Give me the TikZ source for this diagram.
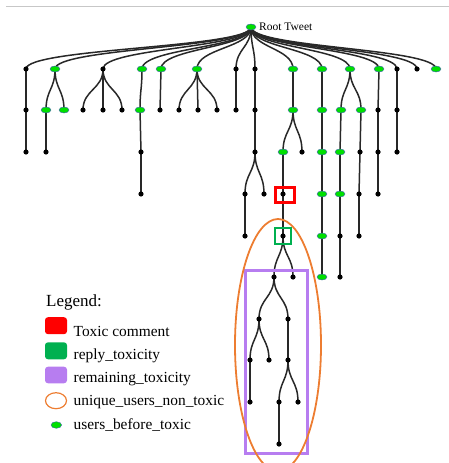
\documentclass[tikz,border=0pt]{standalone}
\usepackage{fontspec}
\setmainfont{Liberation Serif}
\usetikzlibrary{shapes.geometric,calc}
\definecolor{nodegreen}{RGB}{0,224,0}
\definecolor{nodeblue}{RGB}{60,100,170}
\definecolor{toxred}{RGB}{255,0,0}
\definecolor{replygreen}{RGB}{0,176,80}
\definecolor{rempurple}{RGB}{183,125,240}
\definecolor{uniqorange}{RGB}{237,125,49}
\definecolor{edgecol}{RGB}{40,40,40}
\pgfdeclarelayer{edges}
\pgfsetlayers{edges,main}
\newcommand\lnk[2]{\draw[edge] let \p1=(#1.center), \p2=(#2.center) in (\p1) .. controls (\x1,{0.5*(\y1+\y2)}) and (\x2,{0.5*(\y1+\y2)}) .. (\p2);}
\begin{document}
\begin{tikzpicture}[x=1pt,y=-1pt,
  bn/.style={circle, fill=black, inner sep=0pt, minimum size=5.2pt},
  gn/.style={ellipse, fill=nodegreen, draw=nodeblue, line width=0.4pt, inner sep=0pt, minimum width=10pt, minimum height=6pt},
  edge/.style={draw=edgecol, line width=1.5pt},
  lgtext/.style={anchor=base west, inner sep=0pt, font=\fontsize{15.4}{18}\selectfont},
  lgbox/.style={inner sep=0pt, rounded corners=3pt, minimum width=22pt}]
\clip (0,0) rectangle (449,463);
\useasboundingbox (0,0) rectangle (449,463);
\coordinate (tl) at (6,6);
\coordinate (tr) at (449,6);
\draw[black!22, line width=1pt] (tl) -- (tr);
% root
\node[gn] (r) at (251,27) {};
\node[anchor=base west, inner sep=0pt, font=\fontsize{11.5}{13}\selectfont] (rt) at (259,30.5) {Root Tweet};
% level 1
\node[bn] (a1) at (26,69) {};
\node[gn] (b1) at (55,69) {};
\node[bn] (c1) at (103,69) {};
\node[gn] (d1) at (142,69) {};
\node[gn] (e1) at (161,69) {};
\node[gn] (f1) at (197,69) {};
\node[bn] (g1) at (236,69) {};
\node[bn] (h1) at (255,69) {};
\node[gn] (i1) at (293,69) {};
\node[gn] (j1) at (322,69) {};
\node[gn] (k1) at (350,69) {};
\node[gn] (l1) at (379,69) {};
\node[bn] (m1) at (397,69) {};
\node[bn] (n1) at (417,69) {};
\node[gn] (o1) at (436,69) {};
% level 2
\node[bn] (a2) at (26,110) {};
\node[gn] (b2) at (46,110) {};
\node[gn] (b3) at (64,110) {};
\node[bn] (c2) at (83,110) {};
\node[bn] (c3) at (103,110) {};
\node[bn] (c4) at (122,110) {};
\node[gn] (d2) at (140,110) {};
\node[bn] (e2) at (160,110) {};
\node[bn] (f2) at (179,110) {};
\node[bn] (f3) at (198,110) {};
\node[bn] (f4) at (217,110) {};
\node[bn] (g2) at (236,110) {};
\node[bn] (h2) at (255,110) {};
\node[gn] (i2) at (293,110) {};
\node[gn] (j2) at (322,110) {};
\node[gn] (k2) at (341,110) {};
\node[gn] (k3) at (361,110) {};
\node[bn] (l2) at (378,110) {};
\node[bn] (m2) at (397,110) {};
% level 3
\node[bn] (a3) at (26,152) {};
\node[bn] (b4) at (46,152) {};
\node[bn] (d3) at (141,152) {};
\node[bn] (h3) at (255,152) {};
\node[gn] (i3) at (283,152) {};
\node[bn] (i4) at (302,152) {};
\node[gn] (j3) at (322,152) {};
\node[gn] (k4) at (340,152) {};
\node[bn] (k5) at (360,152) {};
\node[bn] (l3) at (378,152) {};
\node[bn] (m3) at (397,152) {};
% level 4
\node[bn] (d4) at (141,194) {};
\node[bn] (h4) at (245,194) {};
\node[bn] (h5) at (264,194) {};
\node[bn] (t) at (283,194) {};
\node[gn] (j4) at (322,194) {};
\node[gn] (k6) at (340,194) {};
\node[bn] (k7) at (359,194) {};
\node[bn] (l4) at (378,194) {};
% level 5
\node[bn] (h6) at (245,236) {};
\node[bn] (u) at (283,236) {};
\node[gn] (j5) at (322,236) {};
\node[bn] (k8) at (340,236) {};
\node[bn] (k9) at (359,236) {};
% level 6
\node[bn] (v1) at (274,277) {};
\node[bn] (v2) at (293,277) {};
\node[gn] (j6) at (322,277) {};
\node[bn] (k10) at (340,277) {};
% level 7
\node[bn] (w1) at (259,319) {};
\node[bn] (w2) at (288,319) {};
% level 8
\node[bn] (x1) at (250,360) {};
\node[bn] (x2) at (269,360) {};
\node[bn] (x3) at (288,360) {};
% level 9
\node[bn] (y1) at (250,402) {};
\node[bn] (y2) at (279,402) {};
\node[bn] (y3) at (298,402) {};
% level 10
\node[bn] (z1) at (279,444) {};
% edges
\begin{pgfonlayer}{edges}
\foreach \pa/\ch in {r/a1,r/b1,r/c1,r/d1,r/e1,r/f1,r/g1,r/h1,r/i1,r/j1,r/k1,r/l1,r/m1,r/n1,r/o1,
  a1/a2,b1/b2,b1/b3,c1/c2,c1/c3,c1/c4,d1/d2,e1/e2,f1/f2,f1/f3,f1/f4,g1/g2,h1/h2,i1/i2,j1/j2,k1/k2,k1/k3,l1/l2,m1/m2,
  a2/a3,b2/b4,d2/d3,h2/h3,i2/i3,i2/i4,j2/j3,k2/k4,k3/k5,l2/l3,m2/m3,
  d3/d4,h3/h4,h3/h5,i3/t,j3/j4,k4/k6,k5/k7,l3/l4,
  h4/h6,t/u,j4/j5,k6/k8,k7/k9,
  u/v1,u/v2,j5/j6,k8/k10,
  v1/w1,v1/w2,w1/x1,w1/x2,w2/x3,x1/y1,x3/y2,x3/y3,y2/z1}
  {\lnk{\pa}{\ch}}
\end{pgfonlayer}
% highlight boxes
\node[draw=toxred, line width=2.6pt, inner sep=0pt, minimum width=19.5pt, minimum height=15.5pt] (redbox) at (285,195) {};
\node[draw=replygreen, line width=2pt, inner sep=0pt, minimum width=16pt, minimum height=16.3pt] (greenbox) at (283,236.3) {};
\node[draw=rempurple, line width=3pt, inner sep=0pt, minimum width=62pt, minimum height=183pt] (purplebox) at (276.5,362) {};
\node[ellipse, draw=uniqorange, line width=1.8pt, inner sep=0pt, minimum width=86pt, minimum height=252pt] (uniq) at (278,345) {};
% legend
\node[anchor=base west, inner sep=0pt, font=\fontsize{17}{20}\selectfont] (lgtitle) at (46,306) {Legend:};
\node[lgbox, fill=toxred, minimum height=17pt] (lgred) at (56,325.7) {};
\node[lgbox, fill=replygreen, minimum height=17pt] (lggreen) at (56,350.8) {};
\node[lgbox, fill=rempurple, minimum height=16.6pt] (lgpurple) at (56,375) {};
\node[ellipse, draw=uniqorange, line width=1.2pt, inner sep=0pt, minimum width=21pt, minimum height=16pt] (lgorange) at (56,400.7) {};
\node[ellipse, fill=nodegreen, draw=nodeblue, line width=0.4pt, inner sep=0pt, minimum width=10.6pt, minimum height=6.6pt] (lgdot) at (56.3,425) {};
\node[lgtext] (lt1) at (73.5,336) {Toxic comment};
\node[lgtext] (lt2) at (73.5,359) {reply\_toxicity};
\node[lgtext] (lt3) at (73.5,382) {remaining\_toxicity};
\node[lgtext] (lt4) at (73.5,405.3) {unique\_users\_non\_toxic};
\node[lgtext] (lt5) at (73.5,429) {users\_before\_toxic};
\end{tikzpicture}
\end{document}
